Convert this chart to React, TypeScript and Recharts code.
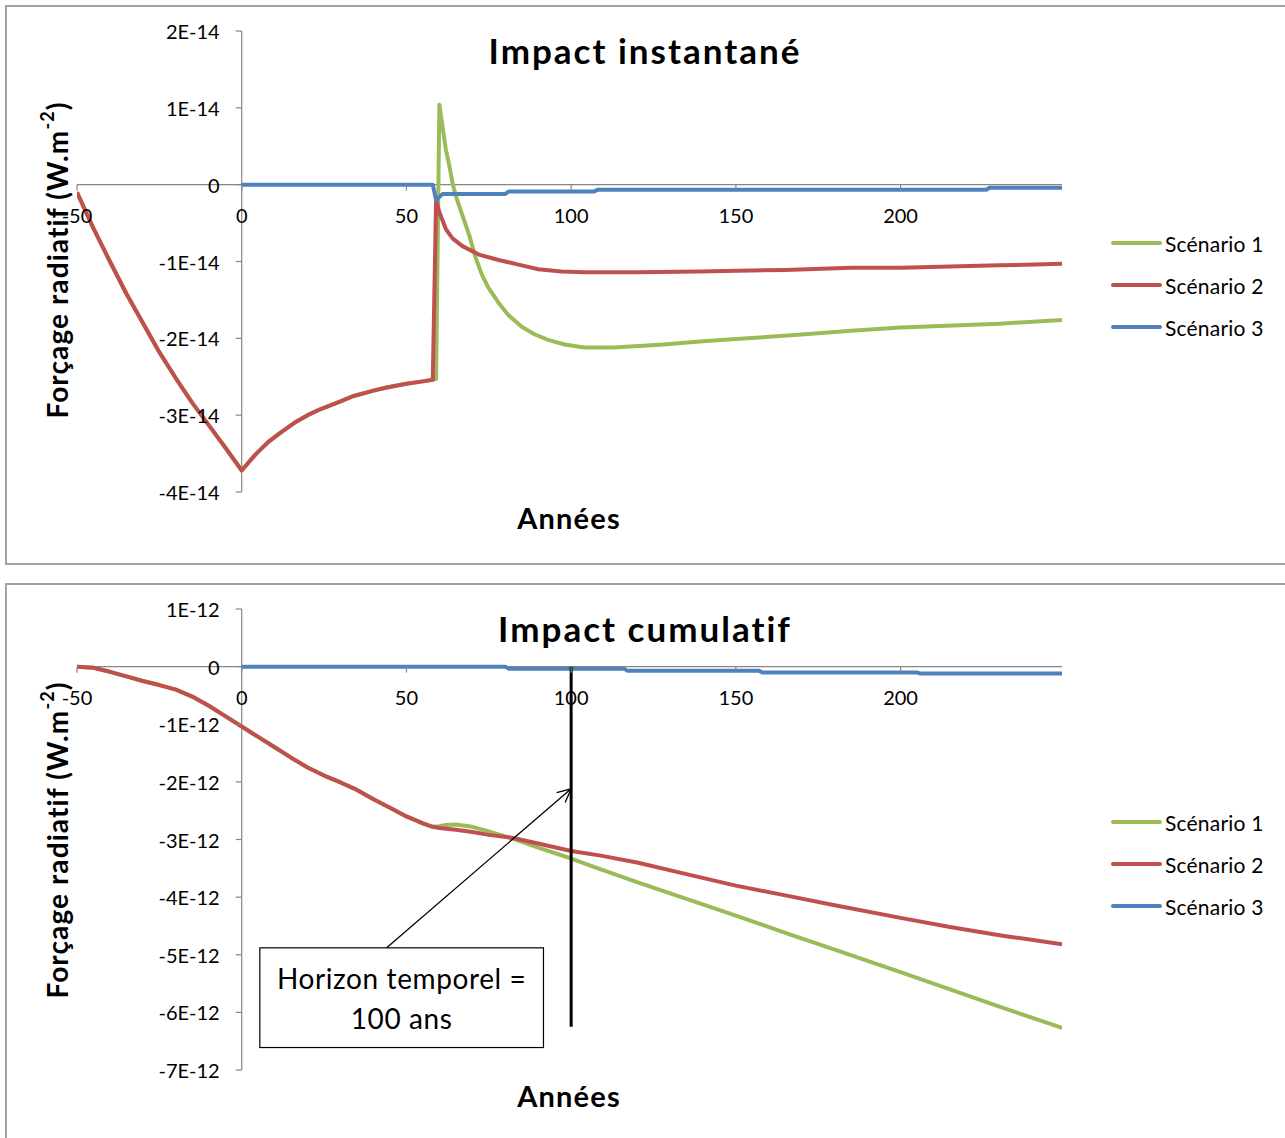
import { LineChart, Line, XAxis, YAxis, ReferenceLine, ReferenceDot, ReferenceArea, Legend } from 'recharts'

// values (instantané in 1E-14, cumulatif in 1E-12)
const instCommonYears = [-50, -45, -40, -35, -30, -25, -20, -15, -10, -5, 0, 2, 4, 8, 12, 16, 20, 24, 30, 34, 40, 44, 50, 55, 58]
const instCommonValues = [-0.1, -0.57, -1.0, -1.42, -1.8, -2.18, -2.52, -2.84, -3.13, -3.42, -3.72, -3.62, -3.52, -3.35, -3.22, -3.1, -3.0, -2.92, -2.82, -2.75, -2.68, -2.64, -2.59, -2.56, -2.54]

const instS1Years = [59, 60, 62, 63, 64, 65, 67, 69, 71, 73, 75, 78, 81, 85, 89, 93, 98, 104, 113, 128, 139, 150, 170, 185, 200, 230, 249]
const instS1Values = [-2.53, 1.04, 0.45, 0.25, 0.02, -0.15, -0.4, -0.65, -0.95, -1.18, -1.35, -1.54, -1.7, -1.85, -1.95, -2.02, -2.08, -2.12, -2.12, -2.08, -2.04, -2.01, -1.95, -1.9, -1.86, -1.81, -1.76]

const instS2Years = [59, 60, 62, 64, 67, 72, 78, 85, 90, 97, 104, 120, 139, 165, 185, 200, 230, 249]
const instS2Values = [-0.2, -0.36, -0.58, -0.7, -0.8, -0.91, -0.98, -1.05, -1.1, -1.13, -1.14, -1.14, -1.13, -1.11, -1.08, -1.08, -1.05, -1.03]

const instS3Years = [0, 58, 59, 61, 80, 81, 107, 108, 226, 227, 249]
const instS3Values = [0, 0, -0.2, -0.12, -0.12, -0.09, -0.09, -0.065, -0.065, -0.04, -0.04]

const cumCommonYears = [-50, -45, -40, -35, -30, -25, -20, -15, -10, -5, 0, 5, 10, 15, 20, 25, 30, 35, 40, 45, 50, 55, 58]
const cumCommonValues = [0, -0.02, -0.09, -0.17, -0.25, -0.32, -0.4, -0.52, -0.68, -0.86, -1.04, -1.22, -1.4, -1.58, -1.75, -1.89, -2.01, -2.14, -2.3, -2.45, -2.6, -2.72, -2.78]

const cumS1Years = [60, 62, 65, 70, 75, 82, 90, 100, 109, 120, 135, 150, 165, 180, 200, 215, 230, 249]
const cumS1Values = [-2.77, -2.75, -2.74, -2.78, -2.86, -2.98, -3.14, -3.33, -3.52, -3.74, -4.03, -4.32, -4.62, -4.91, -5.3, -5.6, -5.9, -6.27]

const cumS2Years = [60, 65, 70, 75, 82, 90, 100, 109, 120, 135, 150, 165, 180, 200, 215, 230, 249]
const cumS2Values = [-2.8, -2.83, -2.87, -2.92, -2.97, -3.07, -3.2, -3.28, -3.4, -3.6, -3.8, -3.97, -4.14, -4.36, -4.52, -4.66, -4.82]

const cumS3Years = [0, 80, 81, 116, 117, 157, 158, 205, 206, 249]
const cumS3Values = [0, 0, -0.035, -0.035, -0.07, -0.07, -0.1, -0.1, -0.12, -0.12]

const xTicks = [-50, 0, 50, 100, 150, 200]
const instYTicks = [2, 1, 0, -1, -2, -3, -4]
const cumYTicks = [1, 0, -1, -2, -3, -4, -5, -6, -7]

const seriesNames = ['Scénario 1', 'Scénario 2', 'Scénario 3']
const seriesColors = ['#9BBB59', '#C0504D', '#4F81BD']

// horizon temporel annotation (cumulatif, in years / 1E-12)
const horizonYear = 100
const horizonBottom = -6.25
const noteBox = { x1: 5.5, x2: 91.6, y1: -6.61, y2: -4.88 }
const noteArrow = { from: [44, -4.88], to: [100, -2.12] }
const noteLines = ['Horizon temporel =', '100 ans']

const FONT = 'Lato, "Open Sans", sans-serif'
const AXIS = '#868686'

const toPoints = (years: number[], values: number[], scale: number) =>
  years.map((x, i) => ({ x, y: values[i] * scale }))

function renderLegend({ payload }: any) {
  return (
    <div style={{ fontFamily: FONT }}>
      {(payload || []).map((entry: any) => (
        <div key={entry.value} style={{ display: 'flex', alignItems: 'center', height: 42 }}>
          <svg width={52} height={8}>
            <line x1={3} y1={4} x2={50} y2={4} stroke={entry.color} strokeWidth={4} strokeLinecap="round" />
          </svg>
          <span style={{ fontSize: 21, marginLeft: 3, color: '#000', letterSpacing: 0.2 }}>{entry.value}</span>
        </div>
      ))}
    </div>
  )
}

interface PanelProps {
  title: string
  top: number
  height: number
  marginTop: number
  marginBottom: number
  scale: number
  exp: string
  yTicks: number[]
  s1: { x: number; y: number }[]
  s2: { x: number; y: number }[]
  s3: { x: number; y: number }[]
  labelY: number
  xTitleY: number
  titleY: number
  legendTop: number
  extra?: React.ReactNode
}

function Panel(p: PanelProps) {
  const width = 1285
  const yMin = p.yTicks[p.yTicks.length - 1] * p.scale
  const yMax = p.yTicks[0] * p.scale
  const fmt = (v: number) => (v === 0 ? '0' : `${v}E${p.exp}`)
  return (
    <div style={{ position: 'absolute', left: 0, top: p.top, width, height: p.height }}>
      <LineChart
        width={width}
        height={p.height}
        margin={{ top: p.marginTop, right: 223, bottom: p.marginBottom, left: 77 }}
        style={{ fontFamily: FONT }}
      >
        <XAxis type="number" dataKey="x" domain={[-50, 249]} hide allowDataOverflow />
        <YAxis type="number" domain={[yMin, yMax]} hide allowDataOverflow />
        <ReferenceLine y={0} stroke={AXIS} strokeWidth={1.2} ifOverflow="visible" />
        <ReferenceLine x={0} stroke={AXIS} strokeWidth={1.2} ifOverflow="visible" />
        {xTicks.map((t) => (
          <ReferenceDot
            key={'x' + t}
            x={t}
            y={0}
            r={0}
            ifOverflow="visible"
            shape={(d: any) => (
              <g>
                <line x1={d.cx} y1={d.cy} x2={d.cx} y2={d.cy + 6} stroke={AXIS} strokeWidth={1.2} />
                <text x={d.cx} y={d.cy + 30} textAnchor="middle" dominantBaseline="central" fontSize={20} fill="#000" fontFamily={FONT}>
                  {t}
                </text>
              </g>
            )}
          />
        ))}
        {p.yTicks.map((t) => (
          <ReferenceDot
            key={'y' + t}
            x={0}
            y={t * p.scale}
            r={0}
            ifOverflow="visible"
            shape={(d: any) => (
              <g>
                <line x1={d.cx - 6} y1={d.cy} x2={d.cx} y2={d.cy} stroke={AXIS} strokeWidth={1.2} />
                <text x={d.cx - 22} y={d.cy} textAnchor="end" dominantBaseline="central" fontSize={20} fill="#000" fontFamily={FONT}>
                  {fmt(t)}
                </text>
              </g>
            )}
          />
        ))}
        <Line data={p.s1} dataKey="y" name={seriesNames[0]} stroke={seriesColors[0]} strokeWidth={4} dot={false} type="linear" isAnimationActive={false} strokeLinejoin="round" />
        <Line data={p.s2} dataKey="y" name={seriesNames[1]} stroke={seriesColors[1]} strokeWidth={4} dot={false} type="linear" isAnimationActive={false} strokeLinejoin="round" />
        <Line data={p.s3} dataKey="y" name={seriesNames[2]} stroke={seriesColors[2]} strokeWidth={4} dot={false} type="linear" isAnimationActive={false} strokeLinejoin="round" />
        {p.extra}
        <Legend
          layout="horizontal"
          verticalAlign="middle"
          align="center"
          content={renderLegend}
          wrapperStyle={{ position: 'absolute', left: 1110, top: p.legendTop, width: 175, height: 126 }}
        />
      </LineChart>
      <svg width={width} height={p.height} style={{ position: 'absolute', left: 0, top: 0, pointerEvents: 'none' }}>
        <text x={645} y={p.titleY} textAnchor="middle" dominantBaseline="central" fontSize={35} fontWeight="bold" letterSpacing={2} fontFamily={FONT} fill="#000">
          {p.title}
        </text>
        <text x={569} y={p.xTitleY} textAnchor="middle" dominantBaseline="central" fontSize={29} fontWeight="bold" letterSpacing={1.2} fontFamily={FONT} fill="#000">
          Années
        </text>
        <text transform={`translate(57,${p.labelY}) rotate(-90)`} textAnchor="middle" dominantBaseline="central" fontSize={28} fontWeight="bold" letterSpacing={1.1} fontFamily={FONT} fill="#000">
          Forçage radiatif (W.m<tspan dy={-10} fontSize={18}>-2</tspan><tspan dy={10}>)</tspan>
        </text>
      </svg>
    </div>
  )
}

export default function App() {
  const s14 = 1e-14
  const s12 = 1e-12
  const inst1 = toPoints([...instCommonYears, ...instS1Years], [...instCommonValues, ...instS1Values], s14)
  const inst2 = toPoints([...instCommonYears, ...instS2Years], [...instCommonValues, ...instS2Values], s14)
  const inst3 = toPoints(instS3Years, instS3Values, s14)
  const cum1 = toPoints([...cumCommonYears, ...cumS1Years], [...cumCommonValues, ...cumS1Values], s12)
  const cum2 = toPoints([...cumCommonYears, ...cumS2Years], [...cumCommonValues, ...cumS2Values], s12)
  const cum3 = toPoints(cumS3Years, cumS3Values, s12)

  const annotation = [
    <ReferenceLine
      key="horizon"
      segment={[{ x: horizonYear, y: 0 }, { x: horizonYear, y: horizonBottom * s12 }]}
      stroke="#000"
      strokeWidth={3}
      ifOverflow="visible"
    />,
    <ReferenceArea
      key="box"
      x1={noteBox.x1}
      x2={noteBox.x2}
      y1={noteBox.y1 * s12}
      y2={noteBox.y2 * s12}
      ifOverflow="visible"
      shape={(d: any) => (
        <g>
          <rect x={d.x} y={d.y} width={d.width} height={d.height} fill="#fff" stroke="#000" strokeWidth={1.2} />
          {noteLines.map((l, i) => (
            <text key={l} x={d.x + d.width / 2} y={d.y + 30 + i * 40} textAnchor="middle" dominantBaseline="central" fontSize={28} letterSpacing={0.6} fontFamily={FONT} fill="#000">
              {l}
            </text>
          ))}
        </g>
      )}
    />,
    <ReferenceLine
      key="arrow"
      segment={[
        { x: noteArrow.from[0], y: noteArrow.from[1] * s12 },
        { x: noteArrow.to[0], y: noteArrow.to[1] * s12 },
      ]}
      ifOverflow="visible"
      shape={(d: any) => {
        const ang = Math.atan2(d.y2 - d.y1, d.x2 - d.x1)
        const len = 15
        const a1 = ang + Math.PI - 0.45
        const a2 = ang + Math.PI + 0.45
        return (
          <g stroke="#000" strokeWidth={1.3} fill="none">
            <line x1={d.x1} y1={d.y1} x2={d.x2} y2={d.y2} />
            <polyline
              points={`${d.x2 + len * Math.cos(a1)},${d.y2 + len * Math.sin(a1)} ${d.x2},${d.y2} ${d.x2 + len * Math.cos(a2)},${d.y2 + len * Math.sin(a2)}`}
            />
          </g>
        )
      }}
    />,
  ]

  return (
    <div style={{ position: 'absolute', left: 0, top: 0, width: 1285, height: 1138, overflow: 'hidden', background: '#fff' }}>
      <div style={{ position: 'absolute', left: 5, top: 5, width: 1320, height: 556, border: '2px solid #a3a3a3' }} />
      <div style={{ position: 'absolute', left: 5, top: 583, width: 1320, height: 600, border: '2px solid #a3a3a3' }} />
      <Panel
        title="Impact instantané"
        top={0}
        height={570}
        marginTop={31}
        marginBottom={78}
        scale={s14}
        exp="-14"
        yTicks={instYTicks}
        s1={inst1}
        s2={inst2}
        s3={inst3}
        labelY={260}
        xTitleY={517}
        titleY={50}
        legendTop={222}
      />
      <Panel
        title="Impact cumulatif"
        top={580}
        height={558}
        marginTop={29}
        marginBottom={68}
        scale={s12}
        exp="-12"
        yTicks={cumYTicks}
        s1={cum1}
        s2={cum2}
        s3={cum3}
        labelY={260}
        xTitleY={515}
        titleY={48}
        legendTop={221}
        extra={annotation}
      />
    </div>
  )
}
